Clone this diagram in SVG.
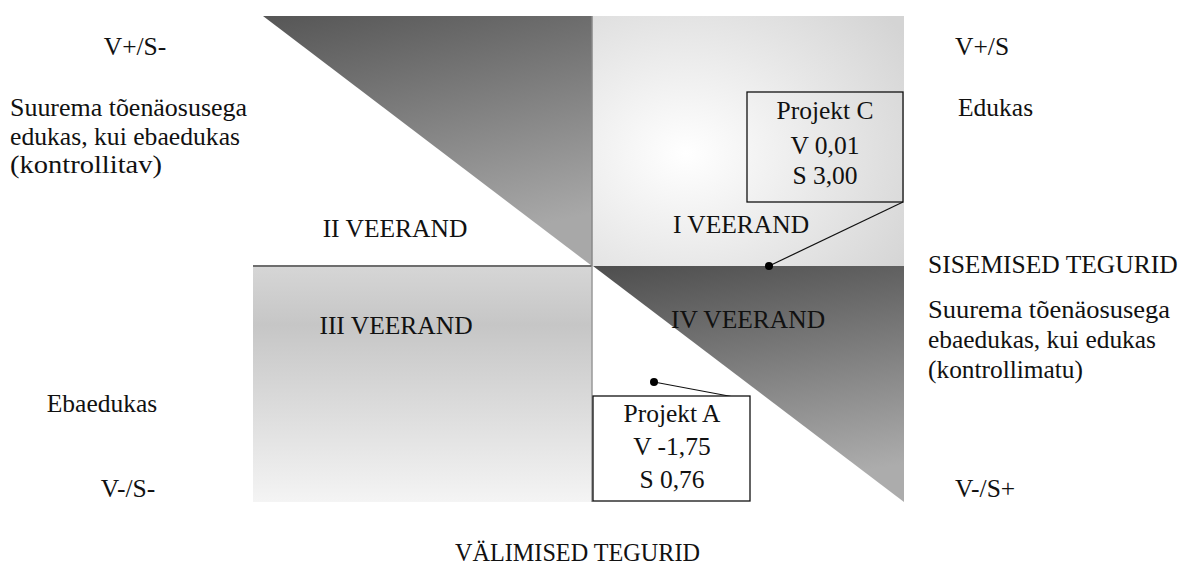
<svg xmlns="http://www.w3.org/2000/svg" width="1180" height="570" viewBox="0 0 1180 570">
<style>
text{font-family:"Liberation Serif","Times New Roman",serif;font-size:25.5px;fill:#111}
.c{text-anchor:middle}
.box{fill:none;stroke:#111;stroke-width:1.3}
.ln{stroke:#111;stroke-width:1.2;fill:none}
</style>
<defs>
<linearGradient id="gTL" x1="0" y1="0" x2="0.3" y2="1">
<stop offset="0" stop-color="#565656"/><stop offset="1" stop-color="#a8a8a8"/>
</linearGradient>
<radialGradient id="gTR" cx="0.3" cy="0.55" r="0.85">
<stop offset="0" stop-color="#ffffff"/><stop offset="1" stop-color="#d4d4d4"/>
</radialGradient>
<linearGradient id="gBL" x1="0" y1="0" x2="0" y2="1">
<stop offset="0" stop-color="#d6d6d6"/><stop offset="0.25" stop-color="#c6c6c6"/><stop offset="1" stop-color="#f4f4f4"/>
</linearGradient>
<linearGradient id="gBR" x1="0" y1="0" x2="0.2" y2="1">
<stop offset="0" stop-color="#4e4e4e"/><stop offset="1" stop-color="#acacac"/>
</linearGradient>
</defs>
<g id="quadrants">
<polygon id="q2" points="263,16 592,16 592,266" fill="url(#gTL)"/>
<rect id="q1" x="592" y="16" width="312" height="250" fill="url(#gTR)"/>
<rect id="q3" x="253" y="266" width="339" height="236" fill="url(#gBL)"/>
<polygon id="q4" points="593,266 904,266 904,502" fill="url(#gBR)"/>
<line x1="253" y1="266" x2="592" y2="266" stroke="#6e6e6e" stroke-width="2"/>
<line x1="592" y1="16" x2="592" y2="266" stroke="#888" stroke-width="1.5"/>
<line x1="592" y1="266" x2="592" y2="502" stroke="#999" stroke-width="1.5"/>
</g>
<g id="labels">
<text class="c" x="395" y="237">II VEERAND</text>
<text class="c" x="741" y="233">I VEERAND</text>
<text class="c" x="396" y="334">III VEERAND</text>
<text class="c" x="748" y="328">IV VEERAND</text>
</g>
<g id="connectors">
<line class="ln" x1="903" y1="202" x2="769" y2="266"/>
<circle cx="769" cy="266" r="4" fill="#000"/>
<line class="ln" x1="654" y1="382" x2="750" y2="400"/>
<circle cx="654" cy="382" r="4" fill="#000"/>
</g>
<g id="projektC">
<rect class="box" x="747" y="92" width="156" height="110"/>
<text class="c" x="825" y="119">Projekt C</text>
<text class="c" x="825" y="154">V 0,01</text>
<text class="c" x="825" y="184">S 3,00</text>
</g>
<g id="projektA">
<rect class="box" x="593" y="396" width="157" height="105" style="fill:#fff"/>
<text class="c" x="672" y="422">Projekt A</text>
<text class="c" x="672" y="455">V -1,75</text>
<text class="c" x="672" y="488">S 0,76</text>
</g>
<g id="left-text">
<text class="c" x="135" y="55">V+/S-</text>
<text x="10" y="116" textLength="237" lengthAdjust="spacingAndGlyphs">Suurema tõenäosusega</text>
<text x="10" y="145" textLength="230" lengthAdjust="spacingAndGlyphs">edukas, kui ebaedukas</text>
<text x="10" y="173" textLength="152" lengthAdjust="spacingAndGlyphs">(kontrollitav)</text>
<text class="c" x="102" y="412">Ebaedukas</text>
<text class="c" x="128" y="497">V-/S-</text>
</g>
<g id="right-text">
<text x="955" y="55">V+/S</text>
<text x="958" y="116">Edukas</text>
<text x="928" y="273">SISEMISED TEGURID</text>
<text x="928" y="318" textLength="242" lengthAdjust="spacingAndGlyphs">Suurema tõenäosusega</text>
<text x="928" y="348" textLength="228" lengthAdjust="spacingAndGlyphs">ebaedukas, kui edukas</text>
<text x="928" y="378" textLength="155" lengthAdjust="spacingAndGlyphs">(kontrollimatu)</text>
<text x="955" y="497">V-/S+</text>
<text x="455" y="561" textLength="245" lengthAdjust="spacingAndGlyphs">VÄLIMISED TEGURID</text>
</g>
</svg>
